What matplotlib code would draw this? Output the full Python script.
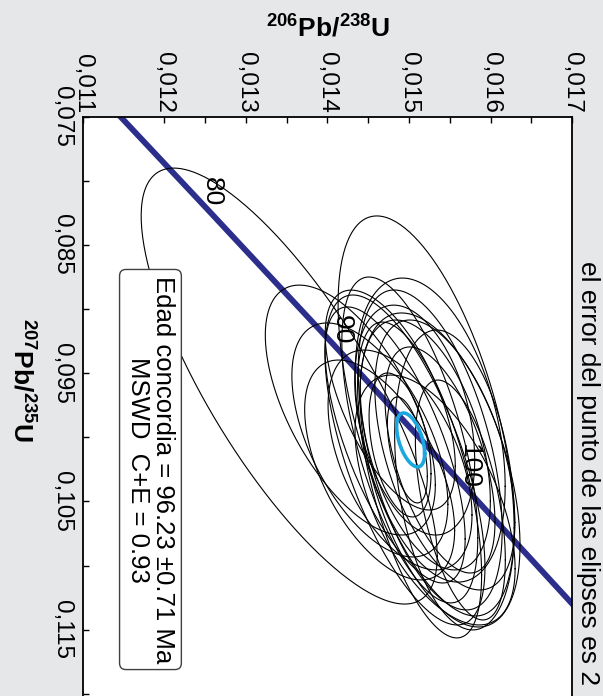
import numpy as np
import matplotlib
matplotlib.use("Agg")
import matplotlib.pyplot as plt

plt.rcParams["font.family"] = ["Liberation Sans", "DejaVu Sans"]
plt.rcParams["mathtext.fontset"] = "custom"
plt.rcParams["mathtext.rm"] = "Liberation Sans"
plt.rcParams["mathtext.bf"] = "Liberation Sans:bold"

# --- data ---
# concordia curve points (206Pb/238U, 207Pb/235U)
conc_206 = [0.01139, 0.01249, 0.01406, 0.01563, 0.01721]
conc_207 = [0.07454, 0.08198, 0.09268, 0.10350, 0.11442]

# age labels on the concordia
age_labels = ["80", "90", "100"]
age_206 = [0.01258, 0.01417, 0.01574]
age_207 = [0.08089, 0.09164, 0.10224]

# error ellipses: centre, 2-sigma half widths, correlation
ell_206 = [0.01353, 0.01521, 0.01428, 0.01452, 0.01489, 0.01526, 0.01501,
           0.01495, 0.01483, 0.01538, 0.01538, 0.01556, 0.01513, 0.01498,
           0.01489, 0.01520, 0.01544, 0.01507, 0.01563, 0.01464, 0.01477,
           0.01526, 0.01532]
ell_207 = [0.09601, 0.09834, 0.09788, 0.10021, 0.10177, 0.09944, 0.10021,
           0.10177, 0.10060, 0.10255, 0.10177, 0.10333, 0.10333, 0.10099,
           0.10060, 0.10060, 0.10138, 0.09866, 0.10489, 0.10255, 0.09710,
           0.10099, 0.10489]
err_206 = [0.001816, 0.00108, 0.001043, 0.000957, 0.000883, 0.00092, 0.000834,
           0.000982, 0.000859, 0.000982, 0.000675, 0.000736, 0.000761, 0.000245,
           0.00038, 0.000798, 0.000859, 0.000736, 0.000552, 0.00092, 0.000798,
           0.000883, 0.000982]
err_207 = [0.01699, 0.01559, 0.00974, 0.00912, 0.00857, 0.01185, 0.0127,
           0.01286, 0.01076, 0.01224, 0.00881, 0.01169, 0.01231, 0.00413,
           0.00561, 0.00974, 0.01052, 0.00896, 0.00935, 0.00857, 0.00857,
           0.01247, 0.00974]
rho = [0.78, 0.56, 0.60, 0.55, 0.50, 0.37, 0.60, 0.65, 0.68, 0.48, 0.55,
       0.30, 0.60, 0.50, 0.40, 0.45, 0.50, 0.35, 0.50, 0.55, 0.60,
       0.50, 0.55]

# concordia age ellipse
mean_206, mean_207 = 0.01502, 0.10021
mean_err_206, mean_err_207, mean_rho = 0.000172, 0.0021, 0.5

x_ticks = [0.011, 0.012, 0.013, 0.014, 0.015, 0.016, 0.017]
x_labels = ["0,011", "0,012", "0,013", "0,014", "0,015", "0,016", "0,017"]
y_ticks = [0.075, 0.085, 0.095, 0.105, 0.115]
y_labels = ["0,075", "0,085", "0,095", "0,105", "0,115"]


def ellipse_xy(cx, cy, ex, ey, r, n=240):
    t = np.linspace(0, 2 * np.pi, n)
    x = cx + ex * np.cos(t)
    y = cy + ey * (r * np.cos(t) + np.sqrt(1 - r ** 2) * np.sin(t))
    return x, y


fig = plt.figure(figsize=(6.03, 6.96), dpi=100, facecolor="#e6e7e8")
ax = fig.add_axes([0.1376, -0.0338, 0.811, 0.8664])
ax.set_facecolor("white")

ax.plot(conc_206, conc_207, color="#2b2e8a", lw=4.2, solid_capstyle="butt", zorder=2)

for cx, cy, ex, ey, r in zip(ell_206, ell_207, err_206, err_207, rho):
    x, y = ellipse_xy(cx, cy, ex, ey, r)
    ax.plot(x, y, color="black", lw=0.8, zorder=3)

x, y = ellipse_xy(mean_206, mean_207, mean_err_206, mean_err_207, mean_rho)
ax.plot(x, y, color="#1ba7df", lw=2.6, zorder=4)

for lab, x, y in zip(age_labels, age_206, age_207):
    ax.text(x, y, lab, rotation=-90, ha="center", va="center", fontsize=19, zorder=4)

ax.set_xlim(0.011, 0.017)
ax.set_ylim(0.122, 0.075)

ax.xaxis.tick_top()
ax.set_xticks(x_ticks)
ax.set_xticklabels(x_labels, rotation=-90)
ax.set_xticks([v + 0.0005 for v in x_ticks[:-1]], minor=True)
ax.set_yticks(y_ticks)
ax.set_yticklabels(y_labels, rotation=-90, va="center")
ax.set_yticks([v + 0.005 for v in y_ticks], minor=True)
ax.tick_params(which="both", direction="in", length=4, width=1,
               top=True, bottom=False, left=True, right=False)
ax.tick_params(axis="x", which="both", pad=2.5, labelsize=17.5)
ax.tick_params(axis="y", which="both", pad=7, labelsize=17.5)
for s in ax.spines.values():
    s.set_linewidth(1.3)

ax.text(0.138, 0.4146, "Edad concordia = 96.23 \u00b10.71 Ma\nMSWD  C+E = 0.93",
        transform=ax.transAxes, rotation=-90, ha="center", va="center",
        multialignment="center", fontsize=18.5, linespacing=1.05, zorder=6,
        bbox=dict(boxstyle="round,pad=0.25", fc="white", ec="#404040", lw=1))

fig.text(328 / 603, 1 - 28 / 696, r"$\mathbf{^{206}}$Pb/$\mathbf{^{238}}$U",
         ha="center", va="center", fontsize=19, fontweight="bold")
fig.text(21 / 603, 1 - 380 / 696, r"$\mathbf{^{207}}$Pb/$\mathbf{^{235}}$U",
         ha="center", va="center", fontsize=19, fontweight="bold", rotation=-90)
fig.text(588 / 603, 1 - 473 / 696, "el error del punto de las elipses es 2",
         ha="center", va="center", fontsize=19, rotation=-90)

fig.savefig("out.png", dpi=100, facecolor=fig.get_facecolor())
